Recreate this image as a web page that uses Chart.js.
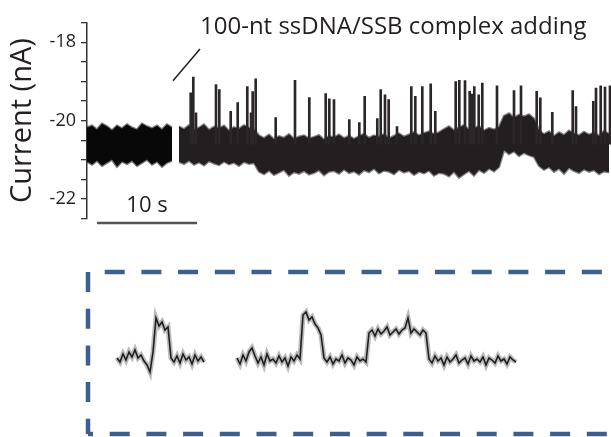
<!DOCTYPE html>
<html><head><meta charset="utf-8">
<script src="https://cdn.jsdelivr.net/npm/chart.js@4.4.1/dist/chart.umd.min.js"></script>
<style>
html,body{margin:0;padding:0;background:#fff;overflow:hidden;width:611px;height:437px}
#main{position:absolute;left:0;top:0}
#inset{position:absolute;left:0;top:250px}
</style></head>
<body>
<canvas id="main" width="611" height="250"></canvas>
<canvas id="inset" width="611" height="187"></canvas>
<script>
// ---------- main trace (time in s, current in nA) ----------
const seg1Start = 0.0, seg1Step = 0.5;
const seg1Upper = [-20.18,-20.13,-20.23,-20.08,-20.15,-20.25,-20.13,-20.20,-20.10,-20.18,-20.23,-20.08,-20.15,-20.20,-20.13,-20.23,-20.10,-20.18];
const seg1Lower = [-21.04,-21.12,-21.02,-21.15,-21.07,-20.99,-21.17,-21.04,-21.10,-21.02,-21.15,-21.07,-20.99,-21.12,-21.04,-21.17,-21.07,-21.02];

const seg2Start = 9.2, seg2Step = 0.5;
const seg2Upper = [
 -20.15,-20.22,-20.12,-20.25,-20.18,-20.10,-20.24,-20.16,-20.20,-20.13,-20.26,-20.17,-20.21,-20.12,-20.19,-20.23,
 -20.38,-20.45,-20.36,-20.48,-20.40,-20.44,-20.35,-20.47,-20.41,-20.38,-20.46,-20.42,-20.37,-20.49,-20.40,
 -20.43,-20.36,-20.45,-20.39,-20.47,-20.40,-20.34,-20.44,-20.38,-20.42,-20.35,-20.46,-20.39,-20.33,-20.41,-20.36,-20.30,-20.38,-20.32,-20.28,-20.35,-20.30,
 -20.22,-20.15,-20.25,-20.18,-20.12,-20.24,-20.20,-20.14,-20.26,-20.19,-20.23,-20.17,
 -19.88,-19.82,-19.93,-19.85,-19.90,-19.84,-19.95,
 -20.25,-20.35,-20.28,-20.40,-20.30,-20.37,-20.26,-20.33,-20.38,-20.29,-20.36,-20.31,-20.39,-20.27,-20.34];
const seg2Lower = [
 -21.05,-21.10,-21.02,-21.12,-21.06,-21.14,-21.03,-21.09,-21.13,-21.04,-21.11,-21.07,-21.15,-21.05,-21.10,-21.08,
 -21.30,-21.36,-21.27,-21.38,-21.32,-21.25,-21.40,-21.31,-21.35,-21.28,-21.37,-21.33,-21.26,-21.39,-21.30,
 -21.28,-21.35,-21.24,-21.33,-21.29,-21.37,-21.26,-21.31,-21.22,-21.34,-21.27,-21.30,-21.36,-21.25,-21.32,-21.28,-21.38,-21.30,-21.34,-21.27,-21.40,-21.33,
 -21.35,-21.42,-21.30,-21.45,-21.36,-21.28,-21.40,-21.25,-21.33,-21.22,-21.29,-21.18,
 -20.75,-20.85,-20.78,-20.90,-20.82,-20.88,-20.92,
 -21.15,-21.25,-21.18,-21.30,-21.22,-21.35,-21.20,-21.28,-21.33,-21.24,-21.30,-21.26,-21.36,-21.29,-21.32];

const spikeBase = -20.6;
const spikeTimes = [10.37,10.63,10.9,12.9,13.23,14.37,15.07,16.03,16.4,16.57,16.87,18.87,20.8,22.23,23.87,24.23,24.7,26.23,27.23,27.77,29.03,29.37,29.8,30.17,31.0,32.43,32.83,33.53,34.37,34.83,36.87,37.23,37.8,38.27,38.53,38.73,39.17,39.53,41.0,42.7,43.4,44.97,45.33,46.53,48.57,48.9,50.63,50.9,51.37,51.8,52.3];
const spikePeaks = [-19.29,-18.89,-19.80,-19.08,-19.21,-19.76,-19.54,-19.13,-19.80,-19.26,-18.93,-19.92,-18.97,-19.41,-19.31,-19.44,-19.46,-19.97,-20.05,-19.38,-19.95,-19.21,-19.34,-19.46,-20.15,-19.13,-19.38,-19.13,-19.06,-19.76,-19.00,-18.97,-18.98,-19.25,-19.32,-19.13,-19.34,-19.04,-19.11,-19.23,-19.11,-19.25,-19.42,-19.79,-19.23,-19.64,-19.51,-19.17,-19.11,-19.14,-19.11];

const yMin = -22.5, yMax = -17.5, yStep = 0.5;
const yLabelEvery = 2;
const xMin = 0, xMax = 52.4;

const annotationText = '100-nt ssDNA/SSB complex adding';
const pointerT = [8.6, 11.3];
const pointerV = [-18.98, -18.17];
const annotationAt = {t: 11.3, v: -17.78};

const scaleBarT = [1.0, 11.0];
const scaleBarV = -22.61;
const scaleBarLabel = '10 s';
const scaleBarLabelAt = {t: 6.0, v: -22.34};

// ---------- inset traces (time in ms, current in nA) ----------
const insetStep = 0.6;
const insetTrace1Start = 5.8;
const insetTrace1 = [-20.56,-20.64,-20.48,-20.60,-20.44,-20.54,-20.40,-20.56,-20.50,-20.62,-20.70,-20.84,-20.44,-19.76,-19.92,-19.84,-20.00,-19.94,-20.56,-20.64,-20.52,-20.66,-20.48,-20.60,-20.54,-20.68,-20.50,-20.62,-20.54,-20.64];
const insetTrace2Start = 29.8;
const insetTrace2 = [
 -20.56,-20.68,-20.50,-20.62,-20.44,-20.36,-20.52,-20.66,-20.54,-20.70,-20.48,-20.62,-20.58,-20.66,-20.52,-20.64,-20.56,-20.72,-20.54,-20.62,-20.50,-20.58,
 -19.70,-19.64,-19.80,-19.74,-19.88,-19.96,-20.10,
 -20.56,-20.64,-20.54,-20.68,-20.58,-20.62,-20.50,-20.66,-20.56,-20.60,-20.70,-20.54,-20.62,-20.58,-20.64,
 -20.06,-20.00,-20.12,-19.98,-20.08,-20.02,-19.94,-20.10,-20.04,-19.98,-20.08,-20.00,-19.96,-19.76,-20.06,-19.98,-20.04,-20.10,-20.00,-20.06,
 -20.58,-20.66,-20.52,-20.62,-20.56,-20.70,-20.54,-20.64,-20.58,-20.50,-20.66,-20.60,-20.56,-20.68,-20.52,-20.62,-20.58,-20.64,-20.54,-20.70,-20.56,-20.60,-20.66,-20.52,-20.62,-20.58,-20.68,-20.54,-20.60,-20.64];
const insetXMin = 0, insetXMax = 104.6, insetYMin = -22.08, insetYMax = -18.84;

// ---------- helpers ----------
const pts = (start, step, arr) => arr.map((v, i) => ({x: start + i * step, y: v}));
const FONT = '"Open Sans", "Noto Sans", sans-serif';
const INK = '#231f20';

const mainText = {
  id: 'mainText',
  afterDatasetsDraw(chart) {
    const {ctx, scales: {x, y}} = chart;
    ctx.save();
    ctx.fillStyle = INK;
    ctx.textBaseline = 'alphabetic';
    ctx.textAlign = 'left';
    ctx.font = '24px ' + FONT;
    ctx.fillText(annotationText, x.getPixelForValue(annotationAt.t), y.getPixelForValue(annotationAt.v));
    ctx.textAlign = 'center';
    ctx.font = '22px ' + FONT;
    ctx.fillText(scaleBarLabel, x.getPixelForValue(scaleBarLabelAt.t), y.getPixelForValue(scaleBarLabelAt.v));
    ctx.restore();
  }
};

const fuzz1 = 'rgba(8,8,8,0.55)';
const fuzz2 = 'rgba(35,31,32,0.55)';

new Chart(document.getElementById('main'), {
  type: 'line',
  data: {
    datasets: [
      {data: pts(seg1Start, seg1Step, seg1Upper), borderColor: fuzz1, backgroundColor: '#080808', borderWidth: 2.5, pointRadius: 0, fill: '+1', order: 2},
      {data: pts(seg1Start, seg1Step, seg1Lower), borderColor: fuzz1, borderWidth: 2.5, pointRadius: 0, fill: false, order: 2},
      {data: pts(seg2Start, seg2Step, seg2Upper), borderColor: fuzz2, backgroundColor: '#231f20', borderWidth: 2.5, pointRadius: 0, fill: '+1', order: 2},
      {data: pts(seg2Start, seg2Step, seg2Lower), borderColor: fuzz2, borderWidth: 2.5, pointRadius: 0, fill: false, order: 2},
      {type: 'bar', data: spikeTimes.map((t, i) => ({x: t, y: [spikeBase, spikePeaks[i]]})), backgroundColor: '#2b2728', barThickness: 2, order: 1},
      {data: pointerT.map((t, i) => ({x: t, y: pointerV[i]})), borderColor: INK, borderWidth: 1.5, pointRadius: 0, clip: false, order: 0},
      {data: scaleBarT.map(t => ({x: t, y: scaleBarV})), borderColor: '#555', borderWidth: 2.5, pointRadius: 0, clip: false, order: 0}
    ]
  },
  options: {
    responsive: false, animation: false, devicePixelRatio: 1,
    layout: {padding: {top: 22.7, bottom: 31.4, left: 0, right: 0}},
    plugins: {legend: {display: false}, tooltip: {enabled: false}},
    scales: {
      x: {type: 'linear', display: false, min: xMin, max: xMax, offset: false},
      y: {
        type: 'linear', position: 'left', min: yMin, max: yMax,
        afterFit: s => { s.width = 87; },
        ticks: {stepSize: yStep, autoSkip: false, color: INK, font: {family: FONT, size: 18}, padding: 5,
          callback: v => (Math.abs(v % yLabelEvery) < 1e-6 ? String(v) : '')},
        grid: {drawOnChartArea: false, drawTicks: true, tickLength: 6, color: '#333', lineWidth: 1.3},
        border: {display: true, color: '#333', width: 1.5},
        title: {display: true, text: 'Current (nA)', color: INK, font: {family: FONT, size: 29}, padding: {top: 5, bottom: 0}}
      }
    }
  },
  plugins: [mainText]
});

const boxPlugin = {
  id: 'box',
  beforeDatasetsDraw(chart) {
    const {ctx, chartArea: a, width} = chart;
    ctx.save();
    ctx.strokeStyle = '#3c5f8e';
    ctx.lineWidth = 4.5;
    ctx.setLineDash([20, 16.7]);
    ctx.lineDashOffset = 20;
    ctx.beginPath(); ctx.moveTo(a.left, a.top); ctx.lineTo(width + 10, a.top); ctx.stroke();
    ctx.lineDashOffset = 0;
    ctx.beginPath(); ctx.moveTo(a.left, a.top); ctx.lineTo(a.left, a.bottom); ctx.stroke();
    ctx.lineDashOffset = 15;
    ctx.beginPath(); ctx.moveTo(a.left, a.bottom); ctx.lineTo(width + 10, a.bottom); ctx.stroke();
    ctx.restore();
  }
};

const t1 = pts(insetTrace1Start, insetStep, insetTrace1);
const t2 = pts(insetTrace2Start, insetStep, insetTrace2);
new Chart(document.getElementById('inset'), {
  type: 'line',
  data: {
    datasets: [
      {data: t1, borderColor: 'rgba(30,30,30,0.3)', borderWidth: 5, pointRadius: 0},
      {data: t2, borderColor: 'rgba(30,30,30,0.3)', borderWidth: 5, pointRadius: 0},
      {data: t1, borderColor: 'rgba(20,20,20,0.95)', borderWidth: 1.6, pointRadius: 0},
      {data: t2, borderColor: 'rgba(20,20,20,0.95)', borderWidth: 1.6, pointRadius: 0}
    ]
  },
  options: {
    responsive: false, animation: false, devicePixelRatio: 1,
    layout: {padding: {left: 88, top: 22, right: 0, bottom: 3}},
    plugins: {legend: {display: false}, tooltip: {enabled: false}},
    scales: {
      x: {type: 'linear', display: false, min: insetXMin, max: insetXMax},
      y: {type: 'linear', display: false, min: insetYMin, max: insetYMax}
    }
  },
  plugins: [boxPlugin]
});
</script>
</body></html>
